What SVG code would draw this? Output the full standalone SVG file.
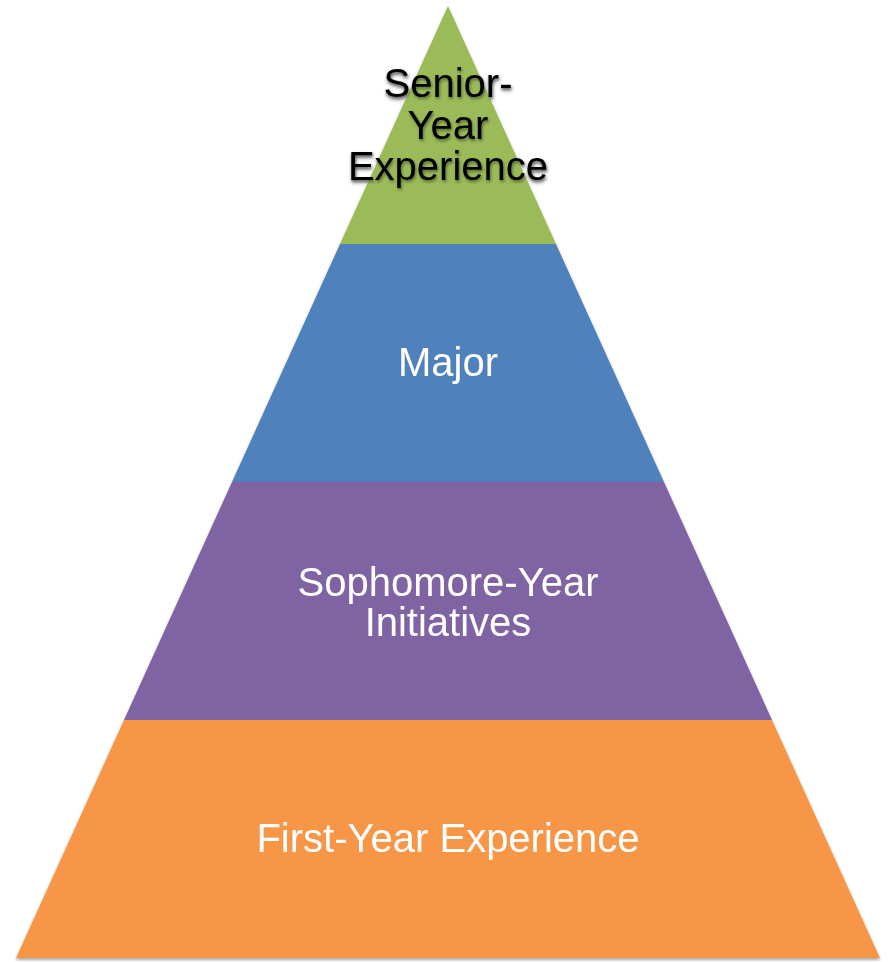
<svg xmlns="http://www.w3.org/2000/svg" width="888" height="962" viewBox="0 0 888 962">
  <defs>
    <style>
      .lbl { font-family: "Liberation Sans", Arial, sans-serif; font-size: 40px; text-anchor: middle; fill: #ffffff; }
      .dark { fill: #000000; filter: url(#textShadow); }
    </style>
    <filter id="shapeShadow" x="-5%" y="-5%" width="110%" height="110%">
      <feDropShadow dx="0" dy="2" stdDeviation="1.5" flood-color="#000000" flood-opacity="0.35"/>
    </filter>
    <filter id="textShadow" x="-10%" y="-20%" width="120%" height="140%">
      <feDropShadow dx="1" dy="2" stdDeviation="1.5" flood-color="#000000" flood-opacity="0.45"/>
    </filter>
  </defs>
  <rect width="888" height="962" fill="#ffffff"/>
  <g filter="url(#shapeShadow)">
    <g id="first-year">
      <polygon points="124,720 772,720 880,958 16,958" fill="#F79646"/>
      <text class="lbl" x="448" y="852">First-Year Experience</text>
    </g>
    <g id="sophomore">
      <polygon points="232,482 664,482 772,720 124,720" fill="#8064A2"/>
      <text class="lbl" x="448" y="596">Sophomore-Year</text>
      <text class="lbl" x="448" y="636">Initiatives</text>
    </g>
    <g id="major">
      <polygon points="340,244 556,244 664,482 232,482" fill="#4F81BD"/>
      <text class="lbl" x="448" y="376">Major</text>
    </g>
    <g id="senior">
      <polygon points="448,6 556,244 340,244" fill="#9BBB59"/>
      <g class="lbl dark">
        <text x="448" y="97">Senior-</text>
        <text x="448" y="139">Year</text>
        <text x="448" y="180">Experience</text>
      </g>
    </g>
  </g>
</svg>
